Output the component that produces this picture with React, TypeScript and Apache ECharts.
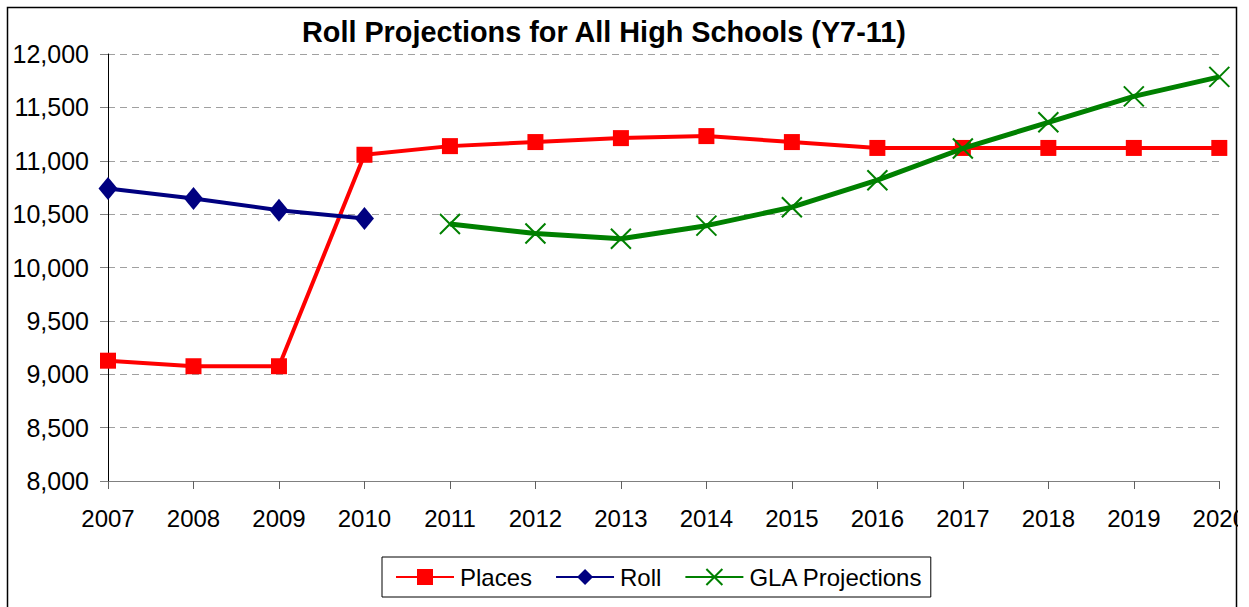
import React, { useEffect, useRef } from "react";
import * as echarts from "echarts";

const years = ["2007", "2008", "2009", "2010", "2011", "2012", "2013", "2014", "2015", "2016", "2017", "2018", "2019", "2020"];
const places = [9127, 9075, 9075, 11056, 11137, 11175, 11212, 11231, 11175, 11120, 11120, 11120, 11120, 11120];
const roll = [10740, 10647, 10537, 10460, null, null, null, null, null, null, null, null, null, null];
const gla = [null, null, null, null, 10407, 10318, 10269, 10392, 10565, 10818, 11115, 11360, 11603, 11786];
const titleText = "Roll Projections for All High Schools (Y7-11)";
const seriesNames = ["Places", "Roll", "GLA Projections"];

const FONT = "'Liberation Sans', Arial, sans-serif";

export default function App() {
  const ref = useRef<HTMLDivElement>(null);
  useEffect(() => {
    if (!ref.current) return;
    const chart = echarts.init(ref.current, null, { renderer: "svg" });
    chart.setOption({
      animation: false,
      backgroundColor: "#ffffff",
      title: {
        text: titleText,
        left: 302,
        top: 17,
        padding: 0,
        textStyle: { fontFamily: FONT, fontSize: 28.8, fontWeight: "bold", color: "#000" },
      },
      legend: {
        left: 382,
        top: 557,
        padding: [8, 8, 8, 13],
        borderColor: "#000",
        borderWidth: 1,
        itemWidth: 58,
        itemHeight: 20,
        itemGap: 23,
        textStyle: { fontFamily: FONT, fontSize: 24, color: "#000", padding: [0, 0, 0, 1] },
        data: seriesNames,
      },
      grid: { left: 108, right: 20, top: 54, bottom: 126, containLabel: false },
      xAxis: {
        type: "category",
        data: years,
        boundaryGap: false,
        axisLine: { lineStyle: { color: "#808080", width: 1 } },
        axisTick: { show: true, length: 8, lineStyle: { color: "#606060" } },
        axisLabel: { fontFamily: FONT, fontSize: 24, color: "#000", margin: 25 },
        splitLine: { show: false },
      },
      yAxis: {
        type: "value",
        min: 8000,
        max: 12000,
        interval: 500,
        axisLine: { show: true, lineStyle: { color: "#000", width: 1 } },
        axisTick: { show: true, length: 8, lineStyle: { color: "#808080" } },
        axisLabel: {
          fontFamily: FONT,
          fontSize: 25,
          color: "#000",
          margin: 19,
          formatter: (v: number) => v.toLocaleString("en-US"),
        },
        splitLine: { show: true, lineStyle: { color: "#a0a0a0", type: [7, 5], width: 1 } },
      },
      graphic: [
        {
          type: "rect",
          z: 100,
          shape: { x: 1238, y: 0, width: 20, height: 607 },
          style: { fill: "#fff" },
        },
        {
          type: "rect",
          z: 101,
          shape: { x: 7.5, y: 7.5, width: 1229, height: 640 },
          style: { fill: "none", stroke: "#000", lineWidth: 1.5 },
        },
      ],
      series: [
        {
          name: seriesNames[0],
          type: "line",
          data: places,
          symbol: "rect",
          symbolSize: 16,
          color: "#ff0000",
          lineStyle: { color: "#ff0000", width: 4 },
          itemStyle: { color: "#ff0000" },
          z: 2,
        },
        {
          name: seriesNames[1],
          type: "line",
          data: roll,
          symbol: "diamond",
          symbolSize: [19, 23],
          color: "#000080",
          lineStyle: { color: "#000080", width: 4 },
          itemStyle: { color: "#000080" },
          z: 3,
        },
        {
          name: seriesNames[2],
          type: "line",
          data: gla,
          symbol: "path://M0,0L20,20M20,0L0,20",
          symbolSize: 20,
          color: "#008000",
          lineStyle: { color: "#008000", width: 5 },
          itemStyle: { color: "none", borderColor: "#008000", borderWidth: 2 },
          z: 4,
        },
      ],
    });
    return () => chart.dispose();
  }, []);
  return (
    <div
      ref={ref}
      style={{ position: "fixed", left: 0, top: 0, width: 1249, height: 607 }}
    />
  );
}
